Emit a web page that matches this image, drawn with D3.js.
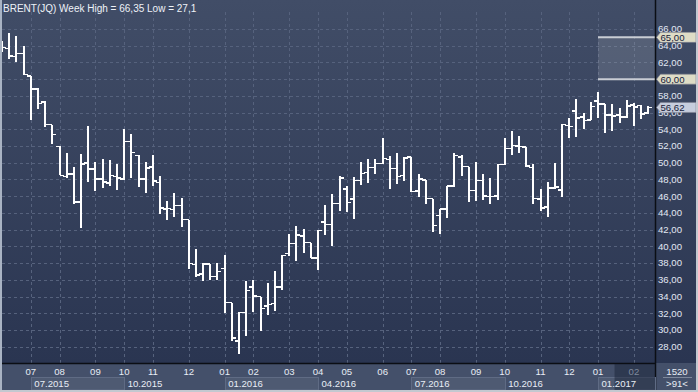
<!DOCTYPE html>
<html><head><meta charset="utf-8">
<script src="https://cdn.jsdelivr.net/npm/d3@7"></script>
<style>html,body{margin:0;padding:0;background:#333f58;overflow:hidden}</style>
</head><body>
<svg id="c" width="698" height="392"></svg>
<script>
// ---- DATA (weekly OHLC, index 0 is the partially visible first week) ----
const opens  = [64.0,63.68,62.72,63.08,60.36,58.8,57.28,54.56,51.96,48.36,48.68,45.32,50.0,49.28,48.08,47.6,48.36,48.04,52.52,50.88,48.08,49.48,47.64,44.48,44.39,44.87,43.2,37.82,36.67,37.9,36.39,37.34,33.28,28.66,32.08,35.11,33.99,32.84,33.16,35.11,39.13,40.33,41.25,40.45,38.62,42.88,42.6,45.12,46.87,45.68,47.87,48.83,49.42,49.9,50.38,49.3,48.47,50.66,46.63,47.91,45.72,43.69,44.44,47.19,50.7,49.54,46.67,47.87,45.96,46.04,49.8,51.72,52.0,51.88,49.44,45.64,44.72,47.0,46.72,54.44,56.2,55.44,55.12,57.4,57.04,55.68,55.68,55.44,56.92,56.84,55.96];
const highs  = [64.6,65.48,65.16,63.96,60.36,58.96,57.44,54.56,51.96,51.12,49.44,51.04,54.4,50.08,50.4,50.28,49.88,54.08,53.4,50.88,50.08,50.88,48.36,45.48,46.43,45.75,43.2,39.65,38.02,37.9,37.98,38.94,33.28,32.16,35.83,36.03,33.99,35.67,37.02,38.94,41.45,42.48,42.04,40.45,41.92,44.91,46.23,48.47,47.27,48.27,50.06,50.5,50.46,52.93,50.78,51.22,50.74,50.66,48.63,47.91,45.72,44.48,47.19,51.22,50.98,49.54,50.14,48.71,48.23,49.85,52.92,53.8,53.2,51.88,49.84,46.92,47.72,49.96,54.6,55.32,57.68,55.92,57.24,58.44,57.04,57.04,56.6,57.52,57.2,56.92,56.8];
const lows   = [63.3,62.36,62.08,60.5,55.08,56.48,54.28,52.24,48.48,48.16,45.04,42.16,47.68,46.68,46.96,47.28,46.8,47.88,48.16,47.16,46.36,47.2,43.84,43.12,43.52,42.32,37.3,36.35,35.87,35.95,36.03,32.04,28.7,27.1,29.29,32.16,29.89,31.84,32.28,34.79,38.9,38.26,39.25,38.58,37.18,41.33,40.06,44.24,44.12,43.29,47.35,47.59,48.67,49.82,46.87,47.51,47.83,46.47,45.92,45.12,41.73,41.49,43.45,47.11,48.43,45.32,45.44,45.52,45.12,45.5,49.7,50.92,51.12,49.44,45.12,44.2,43.52,46.92,45.92,52.92,53.12,54.04,55.12,55.32,53.6,53.8,54.72,55.32,54.44,55.2,55.8];
const closes = [63.8,62.8,63.08,60.56,58.8,57.08,54.56,53.4,48.48,48.68,45.32,49.88,49.28,48.08,47.72,48.48,48.2,52.52,51.24,48.08,49.4,47.84,44.6,44.52,44.87,43.2,37.94,36.55,37.9,36.39,37.0,33.28,29.05,32.08,34.71,34.07,32.56,33.04,35.11,38.9,40.33,41.37,40.45,38.62,41.92,42.6,45.12,48.15,45.24,47.87,48.71,49.42,49.9,50.5,49.3,48.35,50.58,46.55,48.07,45.72,42.49,44.44,47.19,50.86,49.54,46.67,47.87,46.04,45.96,49.8,51.72,52.08,51.96,49.64,45.72,44.6,47.0,47.12,54.6,54.32,55.32,55.04,56.72,57.0,55.68,55.6,55.44,56.8,56.64,55.8,56.62];

const monthLabels = ["07","08","09","10","11","12","01","02","03","04","05","06","07","08","09","10","11","12","01","02"];
const monthIndex  = [4,8,13,17,21,26,31,35,40,44,48,53,57,61,66,70,75,79,83,88];
const quarterLabels = ["07.2015","10.2015","01.2016","04.2016","07.2016","10.2016","01.2017"];
const quarterIndex  = [4,17,31,44,57,70,83];
const yTicks = d3.range(28, 67, 2);
const zoneLevels = [60, 65];
const zoneStartIndex = 83;
const titleText = "BRENT(JQ) Week High = 66,35 Low = 27,1";
const cornerTop = "1520", cornerBottom = ">91<";

// ---- LAYOUT ----
const W = 698, H = 392, plotR = 655, plotB = 363, axisB = 390;
const svg = d3.select("#c");
const fmt = v => v.toFixed(2).replace(".", ",");
const x = d3.scaleLinear().domain([0, 90]).range([2.1, 648.3]);
const y = d3.scaleLinear().domain([28, 66]).range([346.7, 29]);

const defs = svg.append("defs");
const g1 = defs.append("linearGradient").attr("id","bg").attr("x1",0).attr("y1",0).attr("x2",0).attr("y2",1);
g1.append("stop").attr("offset","0%").attr("stop-color","#414d67");
g1.append("stop").attr("offset","100%").attr("stop-color","#2a3551");
defs.append("clipPath").attr("id","clip").append("rect").attr("x",2).attr("y",0).attr("width",plotR-2).attr("height",plotB);

svg.append("rect").attr("x",0).attr("y",0).attr("width",W).attr("height",plotB).attr("fill","url(#bg)");
svg.append("rect").attr("x",0).attr("y",plotB).attr("width",W).attr("height",H-plotB).attr("fill","#44506a");

// grid
const grid = svg.append("g").attr("stroke","#56627d").attr("stroke-dasharray","3,3").attr("stroke-width",1);
grid.selectAll("line.h").data(yTicks).join("line").attr("class","h")
  .attr("x1",2).attr("x2",plotR).attr("y1",d=>Math.round(y(d))+0.5).attr("y2",d=>Math.round(y(d))+0.5);
grid.selectAll("line.v").data(monthIndex).join("line").attr("class","v")
  .attr("y1",12).attr("y2",plotB).attr("x1",d=>Math.round(x(d))+0.5).attr("x2",d=>Math.round(x(d))+0.5);

// zone
const zx0 = x(zoneStartIndex);
svg.append("rect").attr("x",zx0).attr("y",y(zoneLevels[1])).attr("width",plotR-zx0)
  .attr("height",y(zoneLevels[0])-y(zoneLevels[1])).attr("fill","rgba(255,255,255,0.12)");
svg.selectAll("line.zone").data(zoneLevels).join("line").attr("class","zone")
  .attr("x1",zx0).attr("x2",plotR).attr("y1",d=>y(d)).attr("y2",d=>y(d))
  .attr("stroke","#c9cdd4").attr("stroke-width",2);

// OHLC bars
const bars = svg.append("g").attr("clip-path","url(#clip)").attr("stroke","#ffffff").attr("shape-rendering","crispEdges");
const idx = d3.range(opens.length);
bars.selectAll("line.hl").data(idx).join("line").attr("class","hl")
  .attr("x1",i=>Math.round(x(i))).attr("x2",i=>Math.round(x(i)))
  .attr("y1",i=>y(highs[i])).attr("y2",i=>y(lows[i])).attr("stroke-width",2);
bars.selectAll("line.o").data(idx).join("line").attr("class","o")
  .attr("x1",i=>Math.round(x(i))-3.6).attr("x2",i=>Math.round(x(i)))
  .attr("y1",i=>y(opens[i])).attr("y2",i=>y(opens[i])).attr("stroke-width",1.6);
bars.selectAll("line.c").data(idx).join("line").attr("class","c")
  .attr("x1",i=>Math.round(x(i))).attr("x2",i=>Math.round(x(i))+3.6)
  .attr("y1",i=>y(closes[i])).attr("y2",i=>y(closes[i])).attr("stroke-width",1.6);

// separators
svg.append("line").attr("x1",plotR+0.5).attr("x2",plotR+0.5).attr("y1",0).attr("y2",axisB).attr("stroke","#0b0e14").attr("stroke-width",1.5);
svg.append("line").attr("x1",0).attr("x2",plotR).attr("y1",plotB+0.5).attr("y2",plotB+0.5).attr("stroke","#0b0e14").attr("stroke-width",1.5);

// right axis labels (the 60,00 tick label is fully covered by the 60,00 marker in the reference)
const font = "'Liberation Sans', Arial, sans-serif";
svg.append("g").selectAll("text").data(yTicks.filter(d=>!zoneLevels.includes(d))).join("text")
  .attr("x",658).attr("y",d=>y(d)).attr("dy","0.35em")
  .attr("font-family",font).attr("font-size",9.6).attr("fill","#e2e8f3").text(d=>fmt(d));

// value markers
const markers = zoneLevels.map(v=>({v, fill:"#dedcc6"})).concat([{v:closes[closes.length-1], fill:"#c6cddd"}]);
const mk = svg.append("g").selectAll("g").data(markers).join("g");
mk.append("path").attr("d",d=>{const c=y(d.v);return `M656.5,${c} L660.5,${c-5} L696,${c-5} L696,${c+5} L660.5,${c+5} Z`;})
  .attr("fill",d=>d.fill).attr("stroke","#7d8190").attr("stroke-width",0.6);
mk.append("text").attr("x",660.5).attr("y",d=>y(d.v)).attr("dy","0.35em")
  .attr("font-family",font).attr("font-size",9.6).attr("fill","#16203a").text(d=>fmt(d.v));

// title
svg.append("text").attr("x",3).attr("y",8).attr("dy","0.35em").attr("font-family",font).attr("font-size",10)
  .attr("fill","#eef2f8").text(titleText);

// bottom axis: quarter boxes
const qEnds = quarterIndex.map((d,i)=> i<quarterIndex.length-1 ? x(quarterIndex[i+1]) : plotR);
svg.append("g").selectAll("rect").data(quarterIndex.filter((d,i)=>i%2===0)).join("rect")
  .attr("x",d=>Math.round(x(d))+0.5).attr("y",377.5)
  .attr("width",(d)=>{const i=quarterIndex.indexOf(d);return Math.round(qEnds[i])-Math.round(x(d));})
  .attr("height",12.5).attr("fill","#4e5a72").attr("stroke","#5f6b84").attr("stroke-width",1);
const shadeStart = 85.3;
svg.append("rect").attr("x",x(shadeStart)).attr("y",plotB+1).attr("width",plotR-x(shadeStart)).attr("height",axisB-plotB-1)
  .attr("fill","rgba(20,28,48,0.45)");

svg.append("g").selectAll("text").data(monthIndex).join("text")
  .attr("x",d=>x(d)).attr("y",371.5).attr("dy","0.35em").attr("text-anchor","middle")
  .attr("font-family",font).attr("font-size",9.6).attr("fill",d=>x(d)>x(shadeStart)?"#7e889c":"#e8edf5")
  .text((d,i)=>monthLabels[i]);
svg.append("g").selectAll("text").data(quarterIndex).join("text")
  .attr("x",d=>x(d)+3.5).attr("y",383.5).attr("dy","0.35em")
  .attr("font-family",font).attr("font-size",9.6).attr("fill","#e8edf5")
  .text((d,i)=>quarterLabels[i]);

// corner panel
svg.append("text").attr("x",677).attr("y",371.5).attr("dy","0.35em").attr("text-anchor","middle")
  .attr("font-family",font).attr("font-size",9.6).attr("fill","#e8edf5").text(cornerTop);
svg.append("line").attr("x1",663).attr("x2",692).attr("y1",377.5).attr("y2",377.5).attr("stroke","#7d879b");
svg.append("text").attr("x",677).attr("y",383.5).attr("dy","0.35em").attr("text-anchor","middle")
  .attr("font-family",font).attr("font-size",9.6).attr("fill","#e8edf5").text(cornerBottom);

// frame
svg.append("rect").attr("x",0).attr("y",0).attr("width",2).attr("height",H).attr("fill","#a9b3c3");
svg.append("rect").attr("x",W-2).attr("y",0).attr("width",2).attr("height",H).attr("fill","#c3c8d0");
svg.append("rect").attr("x",0).attr("y",H-2).attr("width",W).attr("height",2).attr("fill","#c3c8d0");
</script>
</body></html>
